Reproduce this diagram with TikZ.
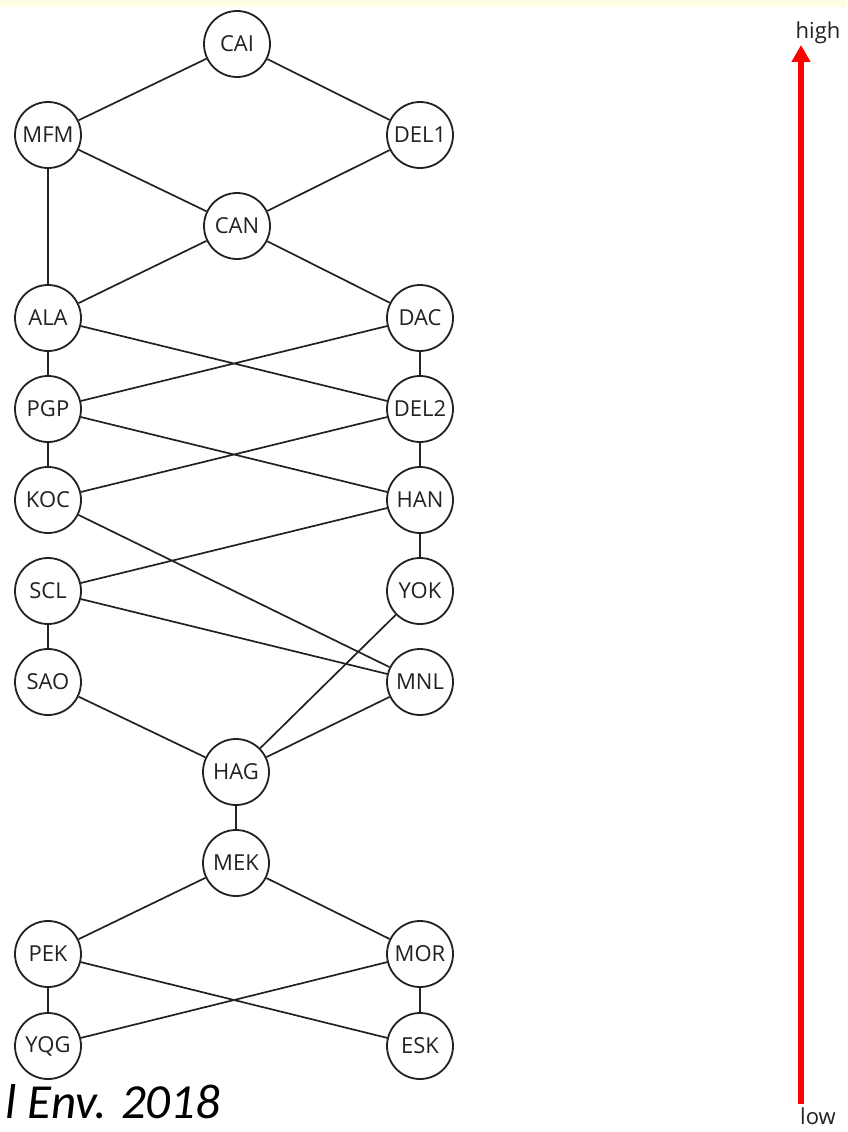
\documentclass[tikz,border=0pt]{standalone}
\usepackage{fontspec}
\setmainfont{Open Sans}
\newfontfamily\capfont{Carlito}
\usetikzlibrary{arrows.meta}
\definecolor{stripyellow}{RGB}{255,252,228}
\definecolor{ink}{RGB}{34,34,34}
\begin{document}
\begin{tikzpicture}[x=1pt,y=-1pt,
  site/.style={circle,draw=ink,line width=1.8pt,minimum size=66pt,inner sep=0pt,
    fill=white,text=ink,font=\fontsize{22}{24}\selectfont},
  link/.style={draw=ink,line width=1.7pt},
  scalelabel/.style={text=ink,font=\fontsize{22}{24}\selectfont,inner sep=0pt}]
\useasboundingbox (0,0) rectangle (847,1132);
\fill[white] (0,0) rectangle (847,1132);
\fill[stripyellow] (0,0) rectangle (847,7);

% ranking lattice
\node[site] (CAI)  at (237,44)   {CAI};
\node[site] (MFM)  at (48,135)   {MFM};
\node[site] (DEL1) at (420,135)  {DEL1};
\node[site] (CAN)  at (237,226)  {CAN};
\node[site] (ALA)  at (48,318)   {ALA};
\node[site] (DAC)  at (420,318)  {DAC};
\node[site] (PGP)  at (48,409)   {PGP};
\node[site] (DEL2) at (420,409)  {DEL2};
\node[site] (KOC)  at (48,500)   {KOC};
\node[site] (HAN)  at (420,500)  {HAN};
\node[site] (SCL)  at (48,591)   {SCL};
\node[site] (YOK)  at (420,591)  {YOK};
\node[site] (SAO)  at (48,682)   {SAO};
\node[site] (MNL)  at (420,682)  {MNL};
\node[site] (HAG)  at (236,772)  {HAG};
\node[site] (MEK)  at (236,863)  {MEK};
\node[site] (PEK)  at (48,954)   {PEK};
\node[site] (MOR)  at (420,954)  {MOR};
\node[site] (YQG)  at (48,1046)  {YQG};
\node[site] (ESK)  at (420,1046) {ESK};

\path[link]
  (CAI) -- (MFM)  (CAI) -- (DEL1)
  (MFM) -- (CAN)  (DEL1) -- (CAN)
  (MFM) -- (ALA)  (CAN) -- (ALA)  (CAN) -- (DAC)
  (ALA) -- (PGP)  (ALA) -- (DEL2)
  (DAC) -- (PGP)  (DAC) -- (DEL2)
  (PGP) -- (KOC)  (PGP) -- (HAN)
  (DEL2) -- (KOC) (DEL2) -- (HAN)
  (KOC) -- (MNL)
  (HAN) -- (SCL)  (HAN) -- (YOK)
  (SCL) -- (MNL)  (SCL) -- (SAO)
  (YOK) -- (HAG)  (SAO) -- (HAG)  (MNL) -- (HAG)
  (HAG) -- (MEK)
  (MEK) -- (PEK)  (MEK) -- (MOR)
  (PEK) -- (YQG)  (PEK) -- (ESK)
  (MOR) -- (YQG)  (MOR) -- (ESK);

% ranking scale
\coordinate (lowend) at (801,1104);
\coordinate (highend) at (801,45);
\draw[red,line width=6pt,-{Triangle[width=18pt,length=17pt]}] (lowend) -- (highend);
\node[scalelabel,anchor=base] (high) at (818,39) {high};
\node[scalelabel,anchor=base] (low) at (818,1124) {low};

% source
\node[anchor=base west,inner sep=0pt,text=black,
  font=\capfont\itshape\fontsize{49}{53}\selectfont] (cite) at (5,1118) {l Env. 2018};
\end{tikzpicture}
\end{document}
